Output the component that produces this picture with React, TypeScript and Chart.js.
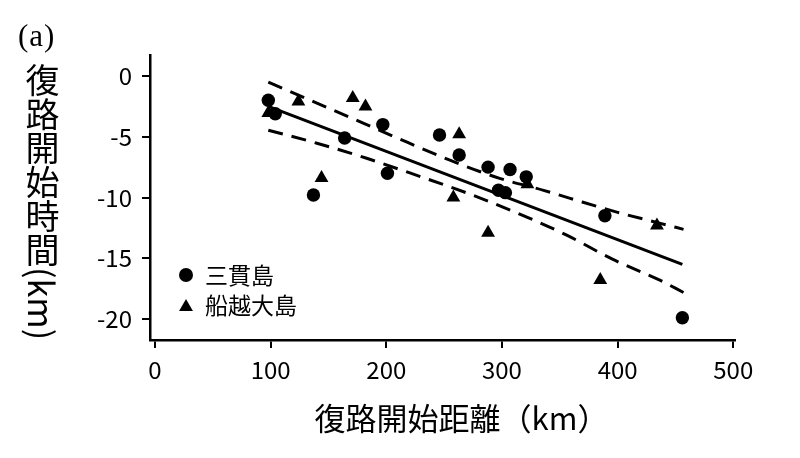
import React, { useEffect, useRef } from 'react';
import { Chart, registerables } from 'chart.js';

Chart.register(...registerables);

const seriesNames = ['三貫島', '船越大島'];
const sanganX = [98, 104, 137, 164, 197, 201, 246, 263, 288, 307, 321, 297, 303, 389, 456];
const sanganY = [-2.0, -3.1, -9.8, -5.1, -4.0, -8.0, -4.85, -6.5, -7.5, -7.7, -8.3, -9.4, -9.6, -11.5, -19.9];
const funakoshiX = [98, 124, 144, 171, 182, 263, 258, 288, 322, 385, 434];
const funakoshiY = [-3.05, -2.1, -8.4, -1.8, -2.5, -4.8, -10.0, -12.9, -8.9, -16.8, -12.3];
const fitX = [98, 456];
const fitY = [-2.5, -15.5];
const upperX = [98, 140, 180, 218, 255, 298, 336, 359, 400, 437, 457];
const upperY = [-0.5, -2.23, -3.88, -5.45, -6.93, -8.42, -9.41, -10.07, -11.22, -12.13, -12.62];
const lowerX = [98, 140, 183, 221, 275, 322, 356, 396, 437, 457];
const lowerY = [-4.46, -5.53, -6.77, -8.0, -9.82, -11.63, -13.1, -15.1, -16.83, -17.82];
const xTicks = [0, 100, 200, 300, 400, 500];
const yTicks = [0, -5, -10, -15, -20];

const xTitle = '復路開始距離（km）';
const yTitle = '復路開始時間(km)';
const panelLabel = '(a)';

const FONT = '"Noto Sans CJK JP", "Noto Sans", sans-serif';

const zip = (xs: number[], ys: number[]) => xs.map((x, i) => ({ x, y: ys[i] }));

const legendPlugin = {
  id: 'insideLegend',
  afterDraw(chart: any) {
    const { ctx, chartArea } = chart;
    const items = chart.data.datasets.filter((d: any) => d.inLegend);
    ctx.save();
    items.forEach((d: any, i: number) => {
      const cx = chartArea.left + 36;
      const cy = chartArea.bottom - 65 + i * 30;
      ctx.fillStyle = '#000';
      ctx.beginPath();
      if (d.pointStyle === 'triangle') {
        const r = 8;
        let rad = 0;
        ctx.moveTo(cx + Math.sin(rad) * r, cy + 2 - Math.cos(rad) * r);
        rad += (2 * Math.PI) / 3;
        ctx.lineTo(cx + Math.sin(rad) * r, cy + 2 - Math.cos(rad) * r);
        rad += (2 * Math.PI) / 3;
        ctx.lineTo(cx + Math.sin(rad) * r, cy + 2 - Math.cos(rad) * r);
        ctx.closePath();
      } else {
        ctx.arc(cx, cy, 7, 0, Math.PI * 2);
      }
      ctx.fill();
      ctx.font = `23px ${FONT}`;
      ctx.textAlign = 'left';
      ctx.textBaseline = 'middle';
      ctx.fillText(d.label, cx + 19, cy);
    });
    // x axis title, placed slightly right of the plot-area centre as in the reference
    const xs = chart.scales.x;
    ctx.font = `31px ${FONT}`;
    ctx.textAlign = 'center';
    ctx.textBaseline = 'middle';
    ctx.fillText(xTitle, (xs.left + xs.right) / 2 + 19, 418);
    ctx.restore();
  },
};

export default function App() {
  const ref = useRef<HTMLCanvasElement | null>(null);

  useEffect(() => {
    if (!ref.current) return;
    const chart = new Chart(ref.current, {
      type: 'scatter',
      data: {
        datasets: [
          {
            label: seriesNames[0],
            data: zip(sanganX, sanganY),
            pointStyle: 'circle',
            pointRadius: 6.7,
            backgroundColor: '#000',
            borderWidth: 0,
            inLegend: true,
          } as any,
          {
            label: seriesNames[1],
            data: zip(funakoshiX, funakoshiY),
            pointStyle: 'triangle',
            pointRadius: 8,
            backgroundColor: '#000',
            borderWidth: 0,
            inLegend: true,
          } as any,
          {
            label: 'fit',
            data: zip(fitX, fitY),
            showLine: true,
            pointRadius: 0,
            borderColor: '#000',
            borderWidth: 3,
          },
          {
            label: 'upper',
            data: zip(upperX, upperY),
            showLine: true,
            pointRadius: 0,
            borderColor: '#000',
            borderWidth: 3,
            borderDash: [15, 9],
            cubicInterpolationMode: 'monotone',
          },
          {
            label: 'lower',
            data: zip(lowerX, lowerY),
            showLine: true,
            pointRadius: 0,
            borderColor: '#000',
            borderWidth: 3,
            borderDash: [15, 9],
            cubicInterpolationMode: 'monotone',
          },
        ],
      },
      options: {
        responsive: false,
        animation: false,
        events: [],
        layout: { padding: { top: 55, right: 65, left: 0, bottom: 0 } },
        plugins: {
          legend: { display: false },
          tooltip: { enabled: false },
        },
        scales: {
          x: {
            type: 'linear',
            min: -4.3,
            max: 501.5,
            afterBuildTicks: (s: any) => {
              s.ticks = xTicks.map((v) => ({ value: v }));
            },
            afterFit: (s: any) => {
              s.height = 118;
            },
            grid: {
              display: true,
              drawOnChartArea: false,
              drawTicks: true,
              tickLength: 8,
              color: '#000',
              lineWidth: 2,
            },
            border: { display: true, color: '#000', width: 2.5 },
            ticks: {
              color: '#000',
              font: { family: FONT, size: 24 },
              padding: 7,
              maxRotation: 0,
              autoSkip: false,
            },
            title: { display: false, text: xTitle },
          },
          y: {
            type: 'linear',
            min: -21.73,
            max: 1.73,
            afterBuildTicks: (s: any) => {
              s.ticks = yTicks.map((v) => ({ value: v }));
            },
            afterFit: (s: any) => {
              s.width = 150;
            },
            grid: {
              display: true,
              drawOnChartArea: false,
              drawTicks: true,
              tickLength: 8,
              color: '#000',
              lineWidth: 2,
            },
            border: { display: true, color: '#000', width: 2.5 },
            ticks: {
              color: '#000',
              font: { family: FONT, size: 24 },
              padding: 10,
              autoSkip: false,
            },
          },
        },
      },
      plugins: [legendPlugin],
    } as any);
    return () => chart.destroy();
  }, []);

  return (
    <div style={{ position: 'fixed', left: 0, top: 0, width: 800, height: 458, background: '#fff' }}>
      <canvas ref={ref} width={800} height={458} style={{ display: 'block' }} />
      <div
        style={{
          position: 'absolute',
          left: 18,
          top: 20,
          fontFamily: '"Liberation Serif", serif',
          fontSize: 31,
          lineHeight: 1,
          letterSpacing: 1,
          color: '#000',
          whiteSpace: 'nowrap',
        }}
      >
        {panelLabel}
      </div>
      <div
        style={{
          position: 'absolute',
          left: 25,
          top: 63,
          writingMode: 'vertical-rl',
          fontFamily: FONT,
          fontSize: 34,
          lineHeight: 1,
          color: '#000',
          whiteSpace: 'nowrap',
        }}
      >
        {yTitle}
      </div>
    </div>
  );
}
